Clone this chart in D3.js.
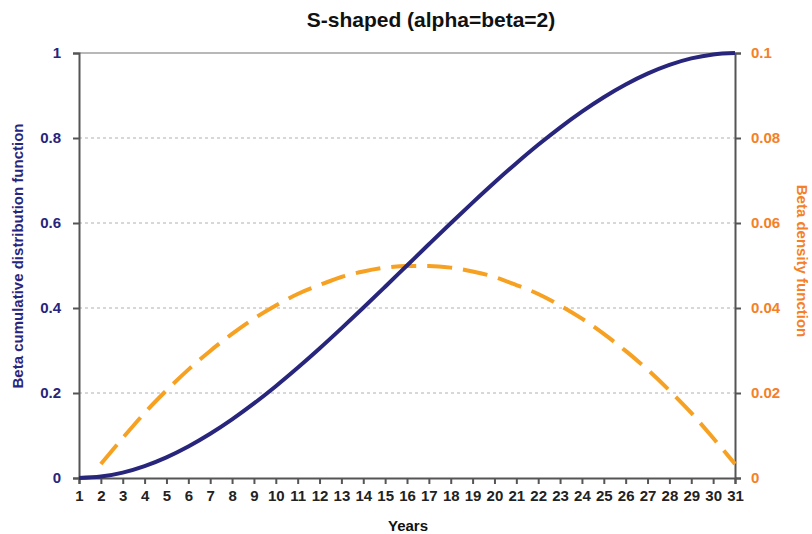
<!DOCTYPE html>
<html>
<head>
<style>
  body { margin: 0; background: #fff; }
  text { font-family: "Liberation Sans Narrow", "Arial Narrow", "Liberation Sans", Arial, sans-serif; font-weight: bold; }
  .grid line { stroke: #b0b0b0; stroke-dasharray: 3,3; }
</style>
<script src="https://cdn.jsdelivr.net/npm/d3@7"></script>
</head>
<body>
<div id="chart"></div>
<script>
var years = d3.range(1, 32);
var cdf = [0, 0.0033, 0.0127, 0.028, 0.0486, 0.0741, 0.104, 0.1379, 0.1754, 0.216,
           0.2593, 0.3047, 0.352, 0.4006, 0.4501, 0.5, 0.5499, 0.5994, 0.648, 0.6953,
           0.7407, 0.784, 0.8246, 0.8621, 0.896, 0.9259, 0.9514, 0.972, 0.9873, 0.9967, 1];
var densYears = d3.range(2, 32);
var density = [0.0033, 0.0094, 0.0153, 0.0206, 0.0255, 0.0299, 0.0339, 0.0375, 0.0406, 0.0433,
               0.0454, 0.0473, 0.0486, 0.0495, 0.0499, 0.0499, 0.0495, 0.0486, 0.0473, 0.0454,
               0.0433, 0.0406, 0.0375, 0.0339, 0.0299, 0.0255, 0.0206, 0.0153, 0.0094, 0.0033];
var leftTicks = [0, 0.2, 0.4, 0.6, 0.8, 1];
var rightTicks = [0, 0.02, 0.04, 0.06, 0.08, 0.1];

var W = 812, H = 534;
var m = {left: 79, right: 77, top: 53, bottom: 56};
var navy = "#27257c", orange = "#f7a123", orangeText = "#f58025";

var svg = d3.select("#chart").append("svg").attr("width", W).attr("height", H);

var x = d3.scaleLinear().domain([1, 31]).range([m.left, W - m.right]);
var yL = d3.scaleLinear().domain([0, 1]).range([H - m.bottom, m.top]);
var yR = d3.scaleLinear().domain([0, 0.1]).range([H - m.bottom, m.top]);

// dotted gridlines
svg.append("g").attr("class", "grid")
  .selectAll("line").data(leftTicks.slice(1, -1)).enter().append("line")
  .attr("x1", x(1)).attr("x2", x(31))
  .attr("y1", d => yL(d)).attr("y2", d => yL(d));

// top border
svg.append("line").attr("x1", x(1)).attr("x2", x(31))
  .attr("y1", yL(1)).attr("y2", yL(1)).attr("stroke", "#a0a0a0").attr("stroke-width", 1.5);

// axes
var gL = svg.append("g").attr("transform", "translate(" + x(1) + ",0)")
  .call(d3.axisLeft(yL).tickValues(leftTicks).tickFormat(d3.format("")).tickSize(6).tickPadding(12));
gL.selectAll("text").attr("fill", navy).style("font-size", "15px");

var gR = svg.append("g").attr("transform", "translate(" + x(31) + ",0)")
  .call(d3.axisRight(yR).tickValues(rightTicks).tickFormat(d3.format("")).tickSize(6).tickPadding(10));
gR.selectAll("text").attr("fill", orangeText).style("font-size", "15px");

var gB = svg.append("g").attr("transform", "translate(0," + yL(0) + ")")
  .call(d3.axisBottom(x).tickValues(years).tickFormat(d3.format("d")).tickSize(6).tickPadding(6));
gB.selectAll("text").attr("fill", "#222").style("font-size", "15px");

[gL, gR, gB].forEach(function(g) {
  g.select(".domain").attr("stroke", "#555").attr("stroke-width", 2);
  g.selectAll(".tick line").attr("stroke", "#555").attr("stroke-width", 2);
});

// series
svg.append("path").datum(densYears.map((t, i) => [t, density[i]]))
  .attr("fill", "none").attr("stroke", orange).attr("stroke-width", 4)
  .attr("stroke-dasharray", "25,11")
  .attr("d", d3.line().x(d => x(d[0])).y(d => yR(d[1])).curve(d3.curveMonotoneX));

svg.append("path").datum(years.map((t, i) => [t, cdf[i]]))
  .attr("fill", "none").attr("stroke", navy).attr("stroke-width", 4)
  .attr("d", d3.line().x(d => x(d[0])).y(d => yL(d[1])).curve(d3.curveMonotoneX));

// titles
svg.append("text").attr("x", 431).attr("y", 27).attr("text-anchor", "middle")
  .style("font-size", "21px").attr("fill", "#111").text("S-shaped (alpha=beta=2)");

svg.append("text").attr("x", 408).attr("y", 531).attr("text-anchor", "middle")
  .style("font-size", "15px").attr("fill", "#111").text("Years");

svg.append("text").attr("transform", "translate(23,256) rotate(-90)")
  .attr("text-anchor", "middle").style("font-size", "15px").attr("fill", navy)
  .text("Beta cumulative distribution function");

svg.append("text").attr("transform", "translate(797,261) rotate(90)")
  .attr("text-anchor", "middle").style("font-size", "15px").attr("fill", orangeText)
  .text("Beta density function");
</script>
</body>
</html>
